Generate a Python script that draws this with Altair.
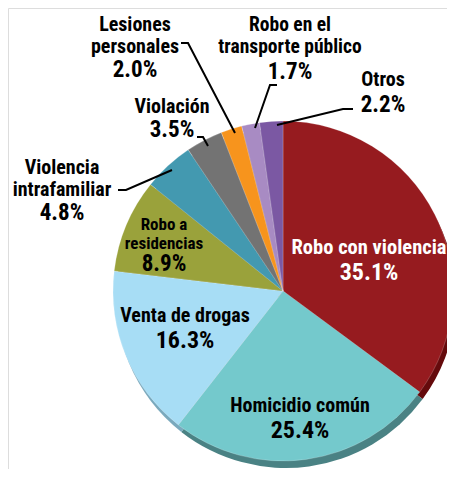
import altair as alt
import pandas as pd

# ---- data ----
names = ["Robo con violencia", "Homicidio común", "Venta de drogas", "Robo a\nresidencias",
         "Violencia\nintrafamiliar", "Violación", "Lesiones\npersonales",
         "Robo en el\ntransporte público", "Otros"]
values = [35.1, 25.4, 16.3, 8.9, 4.8, 3.5, 2.0, 1.7, 2.2]
colors = ["#961b1f", "#74c9cc", "#a7ddf5", "#9aa23b", "#4399b0", "#737373", "#f7941d", "#a88bc3", "#7b58a3"]
shadow_colors = ["#650a0c", "#4a8284", "#7aa9bd", "#6d7427", "#2d6f80", "#4e4e4e", "#b0680f", "#7a6190", "#573e78"]

# ---- layout (page px) ----
OFF = 8
CX, CY, R = 283 - OFF, 291 - OFF, 170
FONT = "Roboto Condensed"
# (center x, first line y, name line height, gap to pct, name size, pct size, text colour)
label_layout = [
    (369, 248, 25, 25, 20.5, 24, "white"),
    (300, 406, 25, 25, 20, 24, "black"),
    (185, 316, 25, 25, 20, 24, "black"),
    (164, 225, 18.5, 20.5, 17, 23, "black"),
    (62, 168, 22, 23, 20, 23, "black"),
    (172, 107, 22, 23, 20, 23, "black"),
    (135, 25, 22, 23, 20, 23, "black"),
    (290, 25, 22, 25, 19.5, 23, "black"),
    (383, 80, 22, 25, 20, 23, "black"),
]
leaders = {
    "vi": [(118, 190), (126, 190), (172, 170)],
    "vo": [(197, 137), (203, 137), (208, 146)],
    "le": [(181, 43), (188, 43), (235, 133)],
    "rt": [(277, 85), (270, 85), (255, 128)],
    "ot": [(353, 109), (343, 109), (277, 125)],
}

slices = pd.DataFrame({
    "name": names, "value": values, "idx": list(range(len(names))),
    "col": colors, "shade": shadow_colors,
})

rows = []
for i, (nm, v) in enumerate(zip(names, values)):
    x, y, lh, gap, ns, ps, tc = label_layout[i]
    lines = nm.split("\n")
    for j, ln in enumerate(lines):
        rows.append({"t": ln, "x": x - OFF, "y": y + j * lh - OFF, "s": ns, "c": tc})
    rows.append({"t": f"{v:.1f}%", "x": x - OFF, "y": y + (len(lines) - 1) * lh + gap - OFF, "s": ps, "c": tc})
labels = pd.DataFrame(rows)

lrows = []
for k, pts in leaders.items():
    for j, (px, py) in enumerate(pts):
        lrows.append({"k": k, "o": j, "x": px - OFF, "y": py - OFF})
lead = pd.DataFrame(lrows)

base = alt.Chart(slices)
shadow = base.mark_arc(outerRadius=R).encode(
    theta=alt.Theta("value:Q", stack=True),
    order=alt.Order("idx:Q"),
    color=alt.Color("shade:N", scale=None),
    x=alt.value(CX + 3), y=alt.value(CY + 7),
)
pie = base.mark_arc(outerRadius=R, stroke="#ffffff", strokeWidth=0.5, strokeOpacity=0.4).encode(
    theta=alt.Theta("value:Q", stack=True),
    order=alt.Order("idx:Q"),
    color=alt.Color("col:N", scale=None),
    x=alt.value(CX), y=alt.value(CY),
)
lines_layer = alt.Chart(lead).mark_line(color="black", strokeWidth=2).encode(
    x=alt.X("x:Q", scale=None, axis=None), y=alt.Y("y:Q", scale=None, axis=None),
    detail="k:N", order="o:Q",
)
text = alt.Chart(labels).mark_text(font=FONT, fontWeight="bold", baseline="middle", align="center").encode(
    x=alt.X("x:Q", scale=None, axis=None), y=alt.Y("y:Q", scale=None, axis=None),
    text="t:N", size=alt.Size("s:Q", scale=None), color=alt.Color("c:N", scale=None),
)

chart = alt.layer(shadow, pie, lines_layer, text).properties(
    width=439, height=461, padding=0, autosize="none",
).configure_view(stroke="transparent", strokeWidth=0).configure(background="white")

chart.save("out.html", embed_options={"renderer": "svg", "actions": False})
